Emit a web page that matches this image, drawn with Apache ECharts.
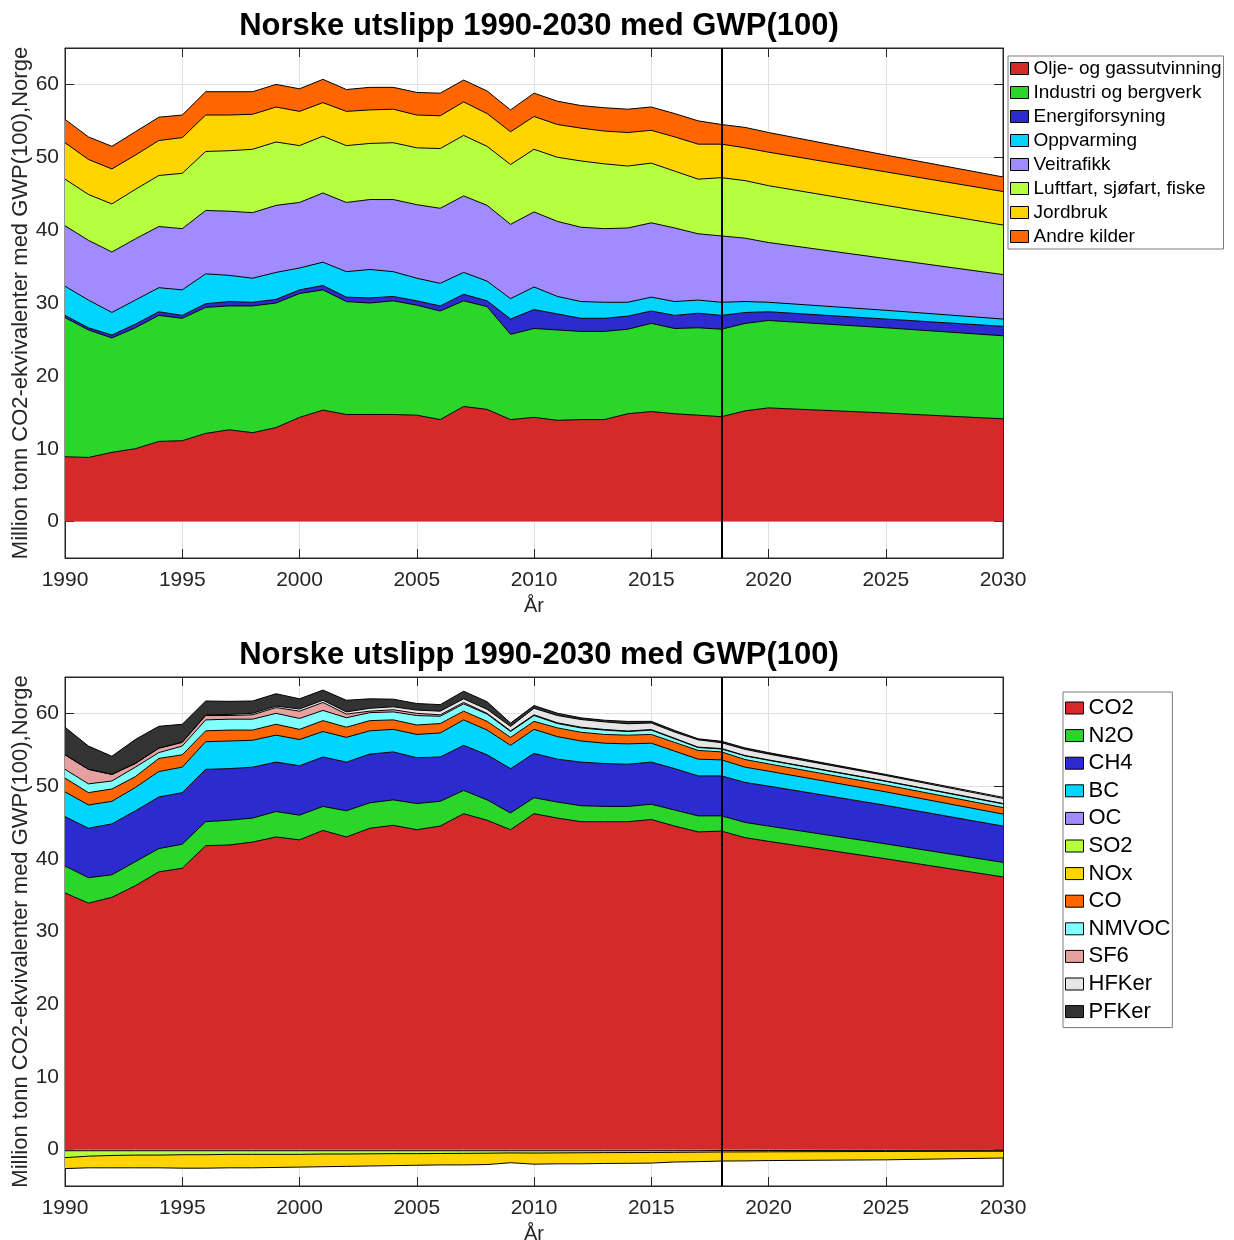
<!DOCTYPE html>
<html><head><meta charset="utf-8">
<script src="https://cdn.jsdelivr.net/npm/echarts@6/dist/echarts.min.js"></script>
<style>html,body{margin:0;padding:0;background:#fff}#c{width:1234px;height:1240px}</style>
</head><body><div id="c"></div>
<script>
// ---------- DATA ----------
const years = [1990,1991,1992,1993,1994,1995,1996,1997,1998,1999,2000,2001,2002,2003,2004,2005,2006,2007,2008,2009,2010,2011,2012,2013,2014,2015,2016,2017,2018,2019,2020,2025,2030];
const projectionYear = 2018;
const yTicks = [0,10,20,30,40,50,60];
const titleText = 'Norske utslipp 1990-2030 med GWP(100)';
const yName = 'Million tonn CO2-ekvivalenter med GWP(100),Norge';
const xName = 'År';

// Top chart: by source
const sectorNames = ['Olje- og gassutvinning','Industri og bergverk','Energiforsyning','Oppvarming','Veitrafikk','Luftfart, sjøfart, fiske','Jordbruk','Andre kilder'];
const olje       = [8.9,8.8,9.5,10.0,11.0,11.1,12.1,12.6,12.2,12.9,14.3,15.3,14.7,14.7,14.7,14.6,14.0,15.8,15.4,14.0,14.3,13.9,14.0,14.0,14.8,15.1,14.8,14.6,14.4,15.2,15.6,14.9,14.1];
const industri   = [19.1,17.5,15.7,16.6,17.3,16.8,17.3,17.0,17.4,17.1,17.0,16.5,15.5,15.3,15.6,15.1,14.9,14.5,14.1,11.7,12.2,12.4,12.1,12.1,11.6,12.1,11.7,12.0,12.0,12.0,12.0,11.7,11.4];
const energi     = [0.3,0.3,0.4,0.5,0.5,0.4,0.5,0.6,0.5,0.5,0.5,0.6,0.6,0.7,0.6,0.6,0.7,0.9,0.8,2.1,2.6,2.2,1.8,1.8,1.8,1.7,1.8,2.0,1.9,1.5,1.2,1.2,1.3];
const oppvarming = [4.0,3.8,3.1,3.3,3.3,3.5,4.1,3.6,3.3,3.7,3.0,3.2,3.5,3.9,3.4,3.1,3.1,3.0,2.7,2.8,3.1,2.4,2.3,2.2,1.9,1.9,1.9,1.8,1.8,1.5,1.3,1.2,1.0];
const veitrafikk = [8.3,8.2,8.3,8.4,8.4,8.4,8.7,8.8,9.0,9.2,9.0,9.5,9.5,9.6,9.9,10.1,10.3,10.5,10.4,10.2,10.3,10.3,10.2,10.1,10.2,10.2,10.1,9.1,9.1,8.7,8.2,7.1,6.1];
const luftfart   = [6.4,6.3,6.6,6.8,7.0,7.6,8.1,8.3,8.7,8.7,7.8,7.8,7.8,7.7,7.8,7.8,8.2,8.3,8.1,8.2,8.6,8.8,9.1,8.9,8.5,8.2,7.8,7.5,8.0,7.9,7.8,7.3,6.8];
const jordbruk   = [5.0,4.8,4.8,4.7,4.8,4.9,5.0,4.9,4.8,4.8,4.7,4.6,4.7,4.6,4.6,4.5,4.5,4.6,4.5,4.5,4.5,4.5,4.5,4.5,4.6,4.5,4.7,4.8,4.6,4.5,4.6,4.6,4.6];
const andre      = [3.2,3.1,3.1,3.2,3.2,3.1,3.2,3.2,3.1,3.1,3.1,3.2,3.0,3.1,3.0,3.1,3.1,3.0,3.1,3.0,3.2,3.2,3.1,3.2,3.2,3.2,3.2,3.2,2.7,2.8,2.7,2.3,2.0];

// Bottom chart: by component
const gasNames = ['CO2','N2O','CH4','BC','OC','SO2','NOx','CO','NMVOC','SF6','HFKer','PFKer'];
const co2   = [35.3,33.9,34.7,36.3,38.2,38.7,41.8,41.9,42.3,43.0,42.6,43.9,43.0,44.2,44.6,44.0,44.5,46.2,45.3,44.0,46.2,45.6,45.1,45.1,45.1,45.4,44.5,43.7,43.8,42.9,42.4,40.0,37.5];
const n2o   = [3.7,3.5,3.1,3.3,3.2,3.3,3.3,3.4,3.3,3.5,3.4,3.3,3.6,3.5,3.5,3.6,3.4,3.2,2.8,2.3,2.2,2.2,2.2,2.1,2.1,2.1,2.2,2.2,2.1,2.1,2.1,2.05,2.0];
const ch4   = [6.8,6.8,7.0,7.0,7.1,7.1,7.2,7.1,7.0,6.8,6.8,6.8,6.7,6.7,6.6,6.3,6.1,6.2,6.2,6.1,6.1,5.9,6.0,5.9,5.8,5.8,5.7,5.5,5.5,5.5,5.5,5.3,5.0];
const bc    = [3.4,3.2,3.1,3.2,3.5,3.5,3.8,3.8,3.7,3.7,3.6,3.5,3.4,3.2,3.1,3.2,3.3,3.5,3.4,3.2,3.3,3.1,2.9,2.8,2.8,2.6,2.4,2.3,2.2,2.1,2.05,1.85,1.65];
const oc    = [-0.15,-0.15,-0.15,-0.15,-0.15,-0.15,-0.15,-0.15,-0.15,-0.15,-0.15,-0.15,-0.15,-0.15,-0.15,-0.15,-0.15,-0.15,-0.15,-0.15,-0.15,-0.15,-0.15,-0.15,-0.15,-0.15,-0.15,-0.15,-0.12,-0.12,-0.12,-0.1,-0.1];
const so2   = [-0.95,-0.75,-0.65,-0.6,-0.6,-0.55,-0.55,-0.5,-0.5,-0.5,-0.5,-0.45,-0.45,-0.42,-0.4,-0.4,-0.38,-0.36,-0.34,-0.3,-0.32,-0.3,-0.28,-0.26,-0.25,-0.24,-0.22,-0.2,-0.2,-0.19,-0.18,-0.15,-0.12];
const nox   = [-1.5,-1.6,-1.7,-1.75,-1.75,-1.85,-1.85,-1.85,-1.85,-1.8,-1.75,-1.75,-1.7,-1.68,-1.65,-1.6,-1.57,-1.59,-1.56,-1.35,-1.53,-1.5,-1.52,-1.49,-1.48,-1.46,-1.33,-1.3,-1.25,-1.24,-1.2,-1.15,-0.93];
const co    = [1.9,1.7,1.7,1.5,1.8,1.7,1.5,1.5,1.4,1.5,1.4,1.5,1.4,1.4,1.3,1.3,1.3,1.2,1.2,1.1,1.1,1.2,1.2,1.2,1.2,1.2,1.2,1.2,1.1,1.05,1.0,0.95,0.9];
const nmvoc = [1.2,1.2,1.1,1.3,0.8,1.2,1.5,1.5,1.5,1.5,1.5,1.4,1.3,1.1,1.1,1.3,1.0,1.0,1.0,0.8,0.8,0.6,0.6,0.6,0.5,0.6,0.5,0.4,0.4,0.5,0.5,0.5,0.5];
const sf6   = [2.0,2.0,0.9,0.5,0.6,0.5,0.6,0.5,0.6,0.8,1.0,1.1,0.5,0.2,0.3,0.3,0.2,0.2,0.1,0.1,0.1,0.1,0.1,0.08,0.07,0.07,0.07,0.06,0.06,0.05,0.05,0.05,0.05];
const hfk   = [0.0,0.0,0.0,0.01,0.02,0.05,0.1,0.15,0.2,0.2,0.3,0.3,0.3,0.4,0.4,0.45,0.5,0.5,0.55,0.6,0.9,1.0,1.05,1.05,1.0,0.9,0.85,1.0,0.8,0.85,0.8,0.75,0.7];
const pfk   = [3.8,3.2,2.5,3.3,3.0,2.45,1.9,1.8,1.7,1.7,1.4,1.4,1.6,1.3,1.05,0.9,0.9,1.05,1.05,0.46,0.37,0.32,0.23,0.23,0.32,0.23,0.23,0.14,0.2,0.2,0.2,0.15,0.15];

// ---------- STYLE ----------
const sectorColors = ['#D42A2A','#2AD62A','#2B2BD0','#00D4FF','#A08CFF','#B6FF40','#FFD400','#FF6600'];
const gasColors = ['#D42A2A','#2AD62A','#2B2BD0','#00D4FF','#A08CFF','#B6FF40','#FFD400','#FF6600','#80FFFF','#E6A0A0','#E6E6E6','#333333'];
const FONT = "'Liberation Sans', Arial, Helvetica, sans-serif";
const AX = '#262626';

const sectorData = [olje, industri, energi, oppvarming, veitrafikk, luftfart, jordbruk, andre];
const gasData = [co2, n2o, ch4, bc, oc, so2, nox, co, nmvoc, sf6, hfk, pfk];

const grids = [
  {left: 65, top: 48, width: 938, height: 510},
  {left: 65, top: 677, width: 938, height: 509}
];

function makeX(gi, main) {
  return {
    type: 'value', gridIndex: gi, min: 1990, max: 2030, interval: 5,
    position: main ? 'bottom' : 'top',
    name: main ? xName : '', nameLocation: 'middle', nameGap: 38, nameMoveOverlap: false,
    nameTextStyle: {fontFamily: FONT, fontSize: 20, color: AX},
    axisLine: {show: true, onZero: false, lineStyle: {color: AX, width: 1}},
    axisTick: {show: true, inside: true, length: 9, lineStyle: {color: AX}},
    axisLabel: {show: main, fontFamily: FONT, fontSize: 21, color: AX, margin: 12, formatter: v => String(v)},
    splitLine: {show: main, lineStyle: {color: '#dfdfdf', width: 1}}
  };
}
function makeY(gi, main) {
  return {
    type: 'value', gridIndex: gi, min: -5, max: 65,
    position: main ? 'left' : 'right',
    name: main ? yName : '', nameLocation: 'middle', nameGap: 33, nameMoveOverlap: false,
    nameTextStyle: {fontFamily: FONT, fontSize: 22, color: AX},
    axisLine: {show: true, onZero: false, lineStyle: {color: AX, width: 1}},
    axisTick: {show: true, inside: true, length: 9, lineStyle: {color: AX}, customValues: yTicks},
    axisLabel: {show: main, fontFamily: FONT, fontSize: 21, color: AX, margin: 6, customValues: yTicks},
    splitLine: {show: main, lineStyle: {color: '#dfdfdf', width: 1}}
  };
}

function areaSeries(name, vals, color, axisIdx, stack, withMark) {
  const s = {
    name: name, type: 'line', stack: stack, xAxisIndex: axisIdx, yAxisIndex: axisIdx,
    // value first, year second: the stack is applied to the value dimension
    data: years.map((y, i) => [vals[i], y]),
    encode: {x: 1, y: 0},
    showSymbol: false, symbol: 'none', smooth: false,
    lineStyle: {color: '#000', width: 1},
    itemStyle: {color: color},
    areaStyle: {color: color, opacity: 1},
    emphasis: {disabled: true}, silent: true
  };
  if (withMark) {
    s.markLine = {
      silent: true, symbol: 'none', label: {show: false},
      lineStyle: {color: '#000', width: 2, type: 'solid'},
      emphasis: {disabled: true},
      data: [{xAxis: projectionYear}]
    };
  }
  return s;
}

const series = [];
sectorNames.forEach((n, i) => series.push(areaSeries(n, sectorData[i], sectorColors[i], 0, 'top', i === sectorNames.length - 1)));
gasNames.forEach((n, i) => series.push(areaSeries(n, gasData[i], gasColors[i], 2, 'bottom', i === gasNames.length - 1)));

const legendBase = {
  orient: 'vertical', icon: 'rect', itemWidth: 18, itemHeight: 12,
  backgroundColor: '#fff', borderColor: '#7a7a7a', borderWidth: 1,
  itemStyle: {borderColor: '#000', borderWidth: 1},
  selectedMode: false
};

const option = {
  animation: false,
  backgroundColor: '#fff',
  title: [
    {text: titleText, left: 534, top: 6, textAlign: 'center', textStyle: {fontFamily: FONT, fontSize: 31, fontWeight: 'bold', color: '#000'}},
    {text: titleText, left: 534, top: 635, textAlign: 'center', textStyle: {fontFamily: FONT, fontSize: 31, fontWeight: 'bold', color: '#000'}}
  ],
  grid: grids.map(g => Object.assign({show: true, borderColor: AX, borderWidth: 1, backgroundColor: '#fff', containLabel: false, outerBoundsMode: 'none'}, g)),
  xAxis: [makeX(0, true), makeX(0, false), makeX(1, true), makeX(1, false)],
  yAxis: [makeY(0, true), makeY(0, false), makeY(1, true), makeY(1, false)],
  legend: [
    Object.assign({}, legendBase, {data: sectorNames, left: 1008, top: 56, padding: [3, 2, 3, 2], itemGap: 5,
      textStyle: {fontFamily: FONT, fontSize: 19, color: '#000'}}),
    Object.assign({}, legendBase, {data: gasNames, left: 1063, top: 692, padding: [5, 2, 5, 2], itemGap: 5.6,
      textStyle: {fontFamily: FONT, fontSize: 22, color: '#000'}})
  ],
  series: series
};

const chart = echarts.init(document.getElementById('c'), null, {renderer: 'canvas'});
chart.setOption(option);
</script></body></html>
